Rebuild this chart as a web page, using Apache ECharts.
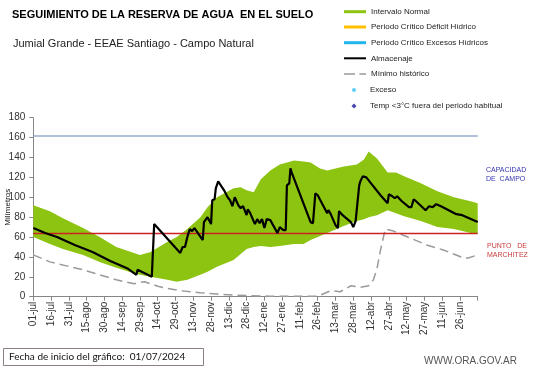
<!DOCTYPE html>
<html><head><meta charset="utf-8">
<script src="https://cdn.jsdelivr.net/npm/echarts@6/dist/echarts.min.js"></script>
<style>html,body{margin:0;padding:0;background:#fff}#c{width:541px;height:368px}</style>
</head><body><div id="c"></div>
<script>
// ---- data ----
const tickLabels = ['01-jul','16-jul','31-jul','15-ago','30-ago','14-sep','29-sep','14-oct','29-oct','13-nov','28-nov','13-dic','28-dic','12-ene','27-ene','11-feb','26-feb','13-mar','28-mar','12-abr','27-abr','12-may','27-may','11-jun','26-jun'];
const capacidadCampo = 162;
const puntoMarchitez = 64;

const almDays = [0,10,20,35,50,65,80,87,88,100,102,124,126,128,130,132,134,136,143,144,147,150,151,153,154,156,161,164,166,168,170,173,175,177,180,181,183,187,189,191,193,195,197,200,206,208,211,213,214,216,217,218,234,236,238,240,248,249,251,255,257,258,261,268,270,272,273,275,276,278,281,285,293,299,300,303,305,307,311,317,319,321,323,331,334,337,340,344,357,358,362,375];
const almVals = [69,64,60,52,45,36,28,22,27,20,73,44,50,50,60,68,66,69,57,75,80,73,97,98,109,116,107,100,97,91,100,92,89,91,82,88,84,73,78,74,78,69,78,77,64,70,67,67,112,114,129,125,75,74,104,102,84,87,83,72,69,86,82,75,70,76,78,112,116,121,120,114,102,94,103,101,99,101,96,90,90,98,96,87,91,90,93,91,83,84,82,75];

const minDays = [0,14,28,42,56,70,85,90,94,105,113,124,141,155,169,183,200,240,251,259,268,276,283,287,290,293,297,304,318,332,346,363,367,375];
const minVals = [42,35,31,27,22,17,13,14.5,15,10.5,8.4,6,4,2.7,1.7,1,0.5,0.5,6,5,11,9.5,11,17,28,47,68,66,59,52,47,39,39,42];

const bandDays  = [0,14,25,42,56,70,85,90,99,113,121,130,141,147,155,169,175,180,186,192,200,208,220,228,234,242,248,262,273,279,283,290,299,306,313,327,341,355,369,375];
const bandUpper = [92,86,79,69,60,50,44,42,45,55,60,68,80,90,100,109,110,107,105,118,127,133,137,136,135,129,127,131,133,138,146,139,125,125,121,114,106,100,96,94];
const bandLower = [60,53,48,42,35,29,23.5,22,20,17,15,17,22,25,30,37,43,48,50,51,50,51,53,53,57,61,64,71,76,78,80,82,87,84,81,76,70,68,64,63];

// ---- build ----
const zip = (a, b) => a.map((d, i) => [d, b[i]]);
const bandRows = bandDays.map((d, i) => [d, bandLower[i], bandUpper[i]]);

const FONT = 'Liberation Sans, Arial, sans-serif';
const GREEN = '#8DC412';

function leg(name, centerY, opts) {
  return Object.assign({
    data: [name], orient: 'vertical', left: 344, top: centerY - 5, padding: 0,
    itemWidth: 22, itemHeight: 3, selectedMode: false, symbolKeepAspect: true,
    textStyle: { fontSize: 8, lineHeight: 10, color: '#222', fontFamily: FONT }
  }, opts || {});
}

function hLine(name, value, color, width) {
  return { name: name, type: 'line', data: [], silent: true, z: 3,
    markLine: { symbol: 'none', silent: true, label: { show: false },
      lineStyle: { color: color, width: width, type: 'solid', opacity: 1 },
      emphasis: { disabled: true },
      data: [{ yAxis: value }] } };
}

const chart = echarts.init(document.getElementById('c'), null, { renderer: 'canvas' });
chart.setOption({
  animation: false,
  backgroundColor: '#fff',
  title: [
    { text: 'SEGUIMIENTO DE LA RESERVA DE AGUA  EN EL SUELO', left: 12, top: 8.5, padding: 0,
      textStyle: { fontSize: 11, fontWeight: 'bold', color: '#000', fontFamily: FONT, lineHeight: 13 } },
    { text: 'Jumial Grande - EEAE Santiago - Campo Natural', left: 13, top: 37.5, padding: 0,
      textStyle: { fontSize: 11, fontWeight: 'normal', color: '#222', fontFamily: FONT, lineHeight: 13 } }
  ],
  legend: [
    leg('Intervalo Normal', 11.7, { icon: 'rect' }),
    leg('Periodo Crítico Déficit Hídrico', 27, { icon: 'rect' }),
    leg('Periodo Crítico Excesos Hídricos', 42.7, { icon: 'rect' }),
    leg('Almacenaje', 58.3, { itemHeight: 8, data: [{ name: 'Almacenaje', icon: 'path://M0,0H22V2H0Z' }] }),
    leg('Mínimo histórico', 74, { itemHeight: 8, data: [{ name: 'Mínimo histórico', icon: 'path://M0,0H10V1.5H0ZM14,0H20V1.5H14Z' }] }),
    leg('Exceso', 90, { left: 352, itemWidth: 22, itemHeight: 4, data: [{ name: 'Exceso', icon: 'circle' }] }),
    leg('Temp <3°C fuera del periodo habitual', 106, { left: 351.5, itemWidth: 22, itemHeight: 5,
      data: [{ name: 'Temp <3°C fuera del periodo habitual', icon: 'path://M0,-1L1,0L0,1L-1,0Z' }] })
  ],
  grid: { left: 33.3, right: 63.3, top: 117.7, bottom: 71.3, containLabel: false, outerBoundsMode: 'none' },
  xAxis: {
    type: 'value', min: 0, max: 375, interval: 15,
    axisLine: { lineStyle: { color: '#868686', width: 1 } },
    axisTick: { show: true, length: 4, lineStyle: { color: '#868686' } },
    splitLine: { show: false },
    axisLabel: {
      rotate: 90, margin: 5, fontSize: 10, color: '#333', fontFamily: FONT,
      formatter: v => tickLabels[Math.round(v / 15)] || ''
    }
  },
  yAxis: {
    type: 'value', min: 0, max: 180, interval: 20,
    name: 'Milímetros', nameLocation: 'middle', nameGap: 22, nameRotate: 90, nameMoveOverlap: false,
    nameTextStyle: { fontSize: 8, color: '#222', fontFamily: FONT },
    axisLine: { show: true, lineStyle: { color: '#868686', width: 1 } },
    axisTick: { show: true, length: 4, lineStyle: { color: '#868686' } },
    splitLine: { show: false },
    axisLabel: { margin: 8, fontSize: 10, color: '#333', fontFamily: FONT }
  },
  series: [
    { name: 'Intervalo Normal', type: 'custom', data: bandRows, color: GREEN, itemStyle: { color: GREEN },
      encode: { x: 0, y: [1, 2] }, silent: true, z: 1,
      renderItem: function (params, api) {
        if (params.dataIndex !== 0) return null;
        const top = bandRows.map(r => api.coord([r[0], r[2]]));
        const bot = bandRows.slice().reverse().map(r => api.coord([r[0], r[1]]));
        return { type: 'polygon', shape: { points: top.concat(bot) }, style: { fill: GREEN } };
      } },
    { name: 'Periodo Crítico Déficit Hídrico', type: 'line', data: [], color: '#FFC000', itemStyle: { color: '#FFC000' } },
    { name: 'Periodo Crítico Excesos Hídricos', type: 'line', data: [], color: '#22B5EC', itemStyle: { color: '#22B5EC' } },
    hLine('Capacidad de campo', capacidadCampo, '#94AACB', 1.5),
    hLine('Punto de marchitez', puntoMarchitez, '#CC2222', 1.3),
    { name: 'Mínimo histórico', type: 'line', data: zip(minDays, minVals), symbol: 'none',
      color: '#9A9A9A', lineStyle: { color: '#9A9A9A', width: 1.5, type: [9, 5] }, z: 4 },
    { name: 'Almacenaje', type: 'line', data: zip(almDays, almVals), symbol: 'none',
      color: '#000', lineStyle: { color: '#000', width: 2.2 }, z: 5 },
    { name: 'Exceso', type: 'scatter', data: [], color: '#33C3F0', symbolSize: 4 },
    { name: 'Temp <3°C fuera del periodo habitual', type: 'scatter', data: [], color: '#1A1AA0', symbol: 'diamond', symbolSize: 5 }
  ],
  graphic: [
    { type: 'text', left: 486, top: 166, style: { text: 'CAPACIDAD\nDE  CAMPO', font: '7px ' + FONT, fill: '#3535B0', lineHeight: 8.5 } },
    { type: 'text', left: 487, top: 242, style: { text: 'PUNTO   DE\nMARCHITEZ', font: '7px ' + FONT, fill: '#C83A3A', lineHeight: 8.5 } },
    { type: 'rect', left: 3, top: 348, shape: { x: 0, y: 0, width: 200, height: 17 },
      style: { fill: '#fff', stroke: '#8C7F7F', lineWidth: 1 } },
    { type: 'text', left: 9, top: 352, style: { text: 'Fecha de inicio del gráfico:  01/07/2024', font: '10px Lato, sans-serif', fill: '#111' } },
    { type: 'text', left: 424, top: 356, style: { text: 'WWW.ORA.GOV.AR', font: '10px ' + FONT, fill: '#555' } }
  ]
});
</script></body></html>
